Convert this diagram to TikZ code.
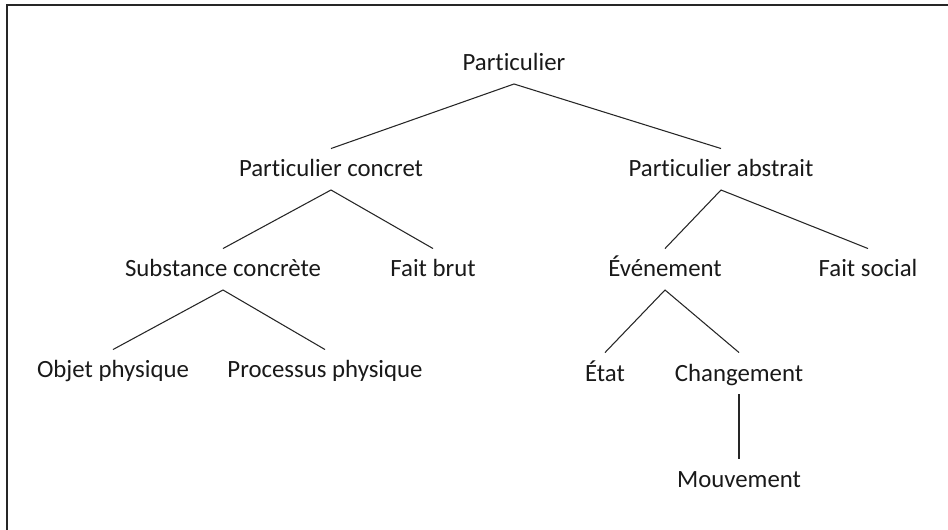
\documentclass[tikz,border=0pt]{standalone}
\usepackage{fontspec}
\setmainfont[Ligatures={NoCommon}]{Carlito}
\usepackage{tikz}

\begin{document}
\begin{tikzpicture}[x=0.75pt, y=-0.75pt,
    term/.style={anchor=base, inner sep=0pt, outer xsep=0pt, outer ysep=9.75pt,
      text height=11.6pt, text depth=0pt, text=black!90,
      font=\fontsize{18.6}{21}\selectfont},
    branch/.style={draw=black!85, line width=0.8pt}]
  \useasboundingbox (0,0) rectangle (948,530);
  % frame
  \draw[black!85, line width=1.5pt] (7,530) -- (7,5) -- (948,5);

  % terms
  \node[term] (part) at (514,71) {Particulier};
  \node[term] (pconc) at (331,177) {Particulier concret};
  \node[term] (pabs) at (721,177) {Particulier abstrait};
  \node[term] (subst) at (223,277) {Substance concrète};
  \node[term] (brut) at (433,277) {Fait brut};
  \node[term] (even) at (665,277) {Événement};
  \node[term] (social) at (868,277) {Fait social};
  \node[term] (objet) at (113,378) {Objet physique};
  \node[term] (proc) at (325,378) {Processus physique};
  \node[term] (etat) at (605,381) {État};
  \node[term] (chang) at (739,381) {Changement};
  \node[term] (mouv) at (739,487) {Mouvement};

  % branches
  \draw[branch] (pconc.north) -- (part.south) -- (pabs.north);
  \draw[branch] (subst.north) -- (pconc.south) -- (brut.north);
  \draw[branch] (even.north) -- (pabs.south) -- (social.north);
  \draw[branch] (objet.north) -- (subst.south) -- (proc.north);
  \draw[branch] (etat.north) -- (even.south) -- (chang.north);
  \draw[branch] (chang.south) -- (mouv.north);
\end{tikzpicture}
\end{document}
